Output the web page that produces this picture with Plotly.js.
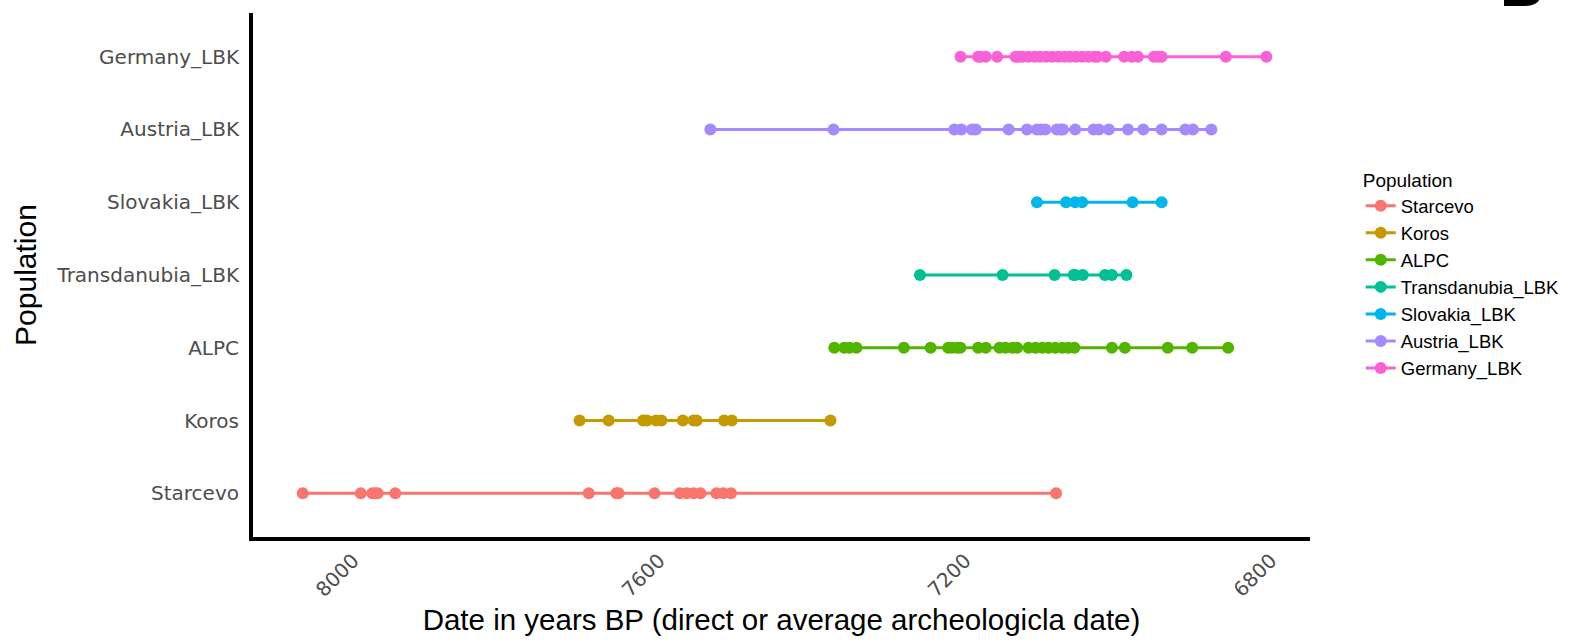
<!DOCTYPE html>
<html>
<head>
<meta charset="utf-8">
<script src="https://cdn.plot.ly/plotly-3.0.1.min.js"></script>
<style>
  html, body { margin: 0; padding: 0; background: #fff; }
  #chart { width: 1573px; height: 642px; }
</style>
</head>
<body>
<div id="chart"></div>
<script>
// populations, bottom to top on the y axis (also legend order)
var populations = ['Starcevo', 'Koros', 'ALPC', 'Transdanubia_LBK', 'Slovakia_LBK', 'Austria_LBK', 'Germany_LBK'];
var colors = ['#F8766D', '#C49A00', '#53B400', '#00C094', '#00B6EB', '#A58AFF', '#FB61D7'];

// dates in years BP
var starcevo = [8066, 7990, 7975, 7971, 7968, 7945, 7692, 7656, 7653, 7606, 7573, 7564, 7555, 7546, 7525, 7516, 7506, 7081];
var koros = [7704, 7666, 7621, 7616, 7604, 7597, 7569, 7555, 7551, 7515, 7505, 7376];
var alpc = [7371, 7358, 7351, 7342, 7280, 7245, 7222, 7217, 7210, 7206, 7183, 7173, 7155, 7147, 7138, 7132,
            7117, 7108, 7099, 7091, 7082, 7073, 7065, 7057, 7008, 6991, 6935, 6903, 6856];
var transdanubia = [7259, 7151, 7083, 7058, 7056, 7046, 7017, 7008, 6989];
var slovakia = [7106, 7068, 7056, 7047, 6981, 6943];
var austria = [7533, 7372, 7214, 7205, 7191, 7186, 7143, 7119, 7106, 7101, 7095, 7080, 7075, 7072, 7056,
               7032, 7025, 7012, 6987, 6967, 6943, 6912, 6902, 6878];
var germany = [7206, 7183, 7180, 7173, 7158, 7134, 7130, 7125, 7117, 7109, 7102, 7094, 7086, 7078, 7070,
               7063, 7055, 7047, 7039, 7031, 7027, 7016, 6992, 6982, 6974, 6953, 6948, 6943, 6859, 6806];

var xTicks = [8000, 7600, 7200, 6800];

var series = [starcevo, koros, alpc, transdanubia, slovakia, austria, germany];

var data = [];
for (var i = 0; i < populations.length; i++) {
  var xs = series[i].slice().sort(function (a, b) { return b - a; });
  data.push({
    type: 'scatter',
    mode: 'lines+markers',
    name: populations[i],
    x: xs,
    y: xs.map(function () { return populations[i]; }),
    line: { color: colors[i], width: 3 },
    marker: { color: colors[i], size: 12 },
    cliponaxis: false
  });
}

var layout = {
  width: 1573,
  height: 642,
  margin: { l: 253, r: 263, t: 13, b: 105, autoexpand: false },
  paper_bgcolor: '#fff',
  plot_bgcolor: '#fff',
  showlegend: true,
  xaxis: {
    range: [8131, 6749],
    tickvals: xTicks,
    ticktext: xTicks.map(String),
    tickangle: -45,
    ticks: '',
    showgrid: false,
    zeroline: false,
    showline: true,
    linecolor: '#000',
    linewidth: 4,
    tickfont: { family: 'DejaVu Sans', size: 20, color: '#4D4D4D' },
    title: {
      text: 'Date in years BP (direct or average archeologicla date)',
      font: { family: 'Liberation Sans', size: 29.5, color: '#000' },
      standoff: 10
    }
  },
  yaxis: {
    type: 'category',
    categoryorder: 'array',
    categoryarray: populations,
    range: [-0.6, 6.6],
    ticks: '',
    ticklabelstandoff: 6,
    showgrid: false,
    zeroline: false,
    showline: true,
    linecolor: '#000',
    linewidth: 4,
    tickfont: { family: 'DejaVu Sans', size: 20, color: '#4D4D4D' },
    title: {
      text: 'Population',
      font: { family: 'Liberation Sans', size: 30, color: '#000' },
      standoff: 12
    }
  },
  legend: {
    x: 1.048,
    xanchor: 'left',
    y: 0.5,
    yanchor: 'middle',
    bgcolor: 'rgba(0,0,0,0)',
    font: { family: 'Liberation Sans', size: 18.5, color: '#000' },
    title: { text: 'Population', font: { family: 'Liberation Sans', size: 19, color: '#000' } }
  },
  annotations: [{
    xref: 'paper', yref: 'paper',
    x: 1.2, y: 0.985,
    xanchor: 'center', yanchor: 'bottom',
    text: '<b>B</b>',
    showarrow: false,
    font: { family: 'Liberation Sans', size: 60, color: '#000' }
  }]
};

Plotly.newPlot('chart', data, layout, { displayModeBar: false, staticPlot: true });
</script>
</body>
</html>
